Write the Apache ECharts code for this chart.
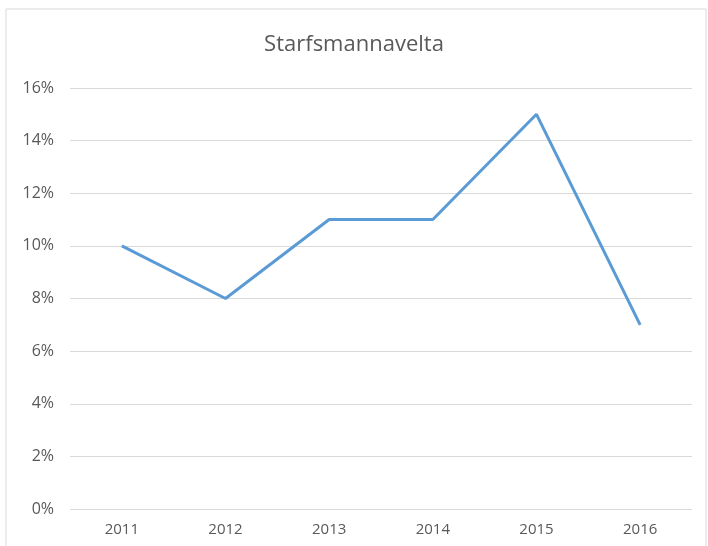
<!DOCTYPE html>
<html>
<head>
<meta charset="utf-8">
<script src="https://cdn.jsdelivr.net/npm/echarts@6/dist/echarts.min.js"></script>
<style>
  html, body { margin: 0; padding: 0; background: #fff; }
  #chart { width: 708px; height: 546px; }
</style>
</head>
<body>
<div id="chart"></div>
<script>
// chart data
const years = ["2011", "2012", "2013", "2014", "2015", "2016"];
const turnover = [0.10, 0.08, 0.11, 0.11, 0.15, 0.07];

const chart = echarts.init(document.getElementById("chart"), null, { renderer: "canvas" });

chart.setOption({
  backgroundColor: "#fff",
  animation: false,
  title: {
    text: "Starfsmannavelta",
    left: "center",
    top: 29,
    textStyle: { fontFamily: "Open Sans", fontWeight: "normal", fontSize: 22, color: "#595959" }
  },
  graphic: [{
    type: "rect",
    shape: { x: 6, y: 9, width: 700, height: 560 },
    style: { fill: "none", stroke: "#d9d9d9", lineWidth: 1 }
  }],
  grid: { left: 70, right: 16, top: 88, bottom: 37 },
  xAxis: {
    type: "category",
    data: years,
    boundaryGap: true,
    axisLine: { show: false },
    axisTick: { show: false },
    axisLabel: { color: "#595959", fontFamily: "Open Sans", fontSize: 15, margin: 13 }
  },
  yAxis: {
    type: "value",
    min: 0,
    max: 0.16,
    interval: 0.02,
    axisLine: { show: false },
    axisTick: { show: false },
    splitLine: { lineStyle: { color: "#d9d9d9", width: 1 } },
    axisLabel: {
      color: "#595959",
      fontFamily: "Open Sans",
      fontSize: 16,
      margin: 16,
      formatter: v => Math.round(v * 100) + "%"
    }
  },
  series: [{
    type: "line",
    data: turnover,
    symbol: "none",
    lineStyle: { color: "#5B9BD5", width: 3 }
  }]
});
</script>
</body>
</html>
